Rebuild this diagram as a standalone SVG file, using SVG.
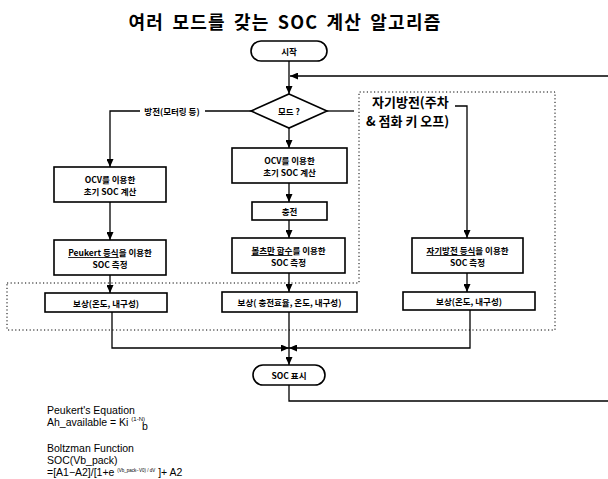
<svg xmlns="http://www.w3.org/2000/svg" width="608" height="479" viewBox="0 0 608 479">
<style>
.bx{fill:#fff;stroke:#000;stroke-width:1.6}
.ln{fill:none;stroke:#000;stroke-width:1.3}
.dot{fill:none;stroke:#000;stroke-width:1;stroke-dasharray:1.2 2.4}
.k{font-family:"Noto Sans CJK KR","Noto Sans",sans-serif;font-weight:bold;fill:#000;text-anchor:middle;dominant-baseline:central}
.s{font-size:8.5px}
.ks{font-family:"Noto Sans CJK KR","Noto Sans",sans-serif;font-weight:bold;fill:#000;font-size:13px;dominant-baseline:central}
.f{font-family:"Liberation Sans",Arial,sans-serif;font-size:10.5px;fill:#000}
.u{text-decoration:underline}
</style>
<defs>
<marker id="ah" markerWidth="8" markerHeight="7" refX="8" refY="3.5" orient="auto" markerUnits="userSpaceOnUse"><path d="M0,0 L8,3.5 L0,7 Z" fill="#000"/></marker>
</defs>
<rect width="608" height="479" fill="#fff"/>
<text class="k" x="285" y="21" font-size="18" letter-spacing="1.2" word-spacing="3">여러 모드를 갖는 SOC 계산 알고리즘</text>
<polygon class="dot" points="7,283 359,283 359,92 555,92 555,330 7,330"/>
<g id="connectors">
<path class="ln" d="M289 61 V94" marker-end="url(#ah)"/>
<path class="ln" d="M289 385 V401 H612 V76 H290" marker-end="url(#ah)"/>
<path class="ln" d="M251 111 H205"/>
<path class="ln" d="M140 111 H110 V167" marker-end="url(#ah)"/>
<path class="ln" d="M327 111 H354"/>
<path class="ln" d="M455 106 H467 V238" marker-end="url(#ah)"/>
<path class="ln" d="M289 128 V148" marker-end="url(#ah)"/>
<path class="ln" d="M289 183 V202" marker-end="url(#ah)"/>
<path class="ln" d="M289 220 V238" marker-end="url(#ah)"/>
<path class="ln" d="M289 273 V292" marker-end="url(#ah)"/>
<path class="ln" d="M289 312 V365" marker-end="url(#ah)"/>
<path class="ln" d="M110 202 V240" marker-end="url(#ah)"/>
<path class="ln" d="M110 275 V293" marker-end="url(#ah)"/>
<path class="ln" d="M112 312 V348 H289" marker-end="url(#ah)"/>
<path class="ln" d="M467 273 V292" marker-end="url(#ah)"/>
<path class="ln" d="M470 310 V348 H289" marker-end="url(#ah)"/>
<text class="k s" x="172" y="111">방전(모터링 등)</text>
<text class="ks" x="372" y="101">자기방전(주차</text>
<text class="ks" x="366" y="120">&amp; 점화 키 오프)</text>
</g>
<g id="start"><rect class="bx" x="251" y="41" width="76" height="20" rx="10"/><text class="k s" x="289" y="51">시작</text></g>
<g id="mode"><polygon class="bx" points="289,94 327,111 289,128 251,111"/><text class="k s" x="289" y="111">모드 ?</text></g>
<g id="ocv-left"><rect class="bx" x="54" y="167" width="112" height="35"/><text class="k s" x="110" y="179">OCV를 이용한</text><text class="k s" x="110" y="191">초기 SOC 계산</text></g>
<g id="peukert"><rect class="bx" x="54" y="240" width="112" height="35"/><text class="k s" x="110" y="252"><tspan class="u">Peukert 등식</tspan>을 이용한</text><text class="k s" x="110" y="264">SOC 측정</text></g>
<g id="comp-left"><rect class="bx" x="45" y="293" width="122" height="19"/><text class="k s" x="106" y="302.5">보상(온도, 내구성)</text></g>
<g id="ocv-mid"><rect class="bx" x="232" y="148" width="115" height="35"/><text class="k s" x="289.5" y="160">OCV를 이용한</text><text class="k s" x="289.5" y="172">초기 SOC 계산</text></g>
<g id="charge"><rect class="bx" x="252" y="202" width="75" height="18"/><text class="k s" x="289.5" y="211">충전</text></g>
<g id="boltzman"><rect class="bx" x="232" y="238" width="113" height="35"/><text class="k s" x="288.5" y="250"><tspan class="u">볼츠만 함수</tspan>를 이용한</text><text class="k s" x="288.5" y="262">SOC 측정</text></g>
<g id="comp-mid"><rect class="bx" x="222" y="292" width="135" height="20"/><text class="k s" x="289.5" y="302">보상( 충전효율, 온도, 내구성)</text></g>
<g id="selfdis"><rect class="bx" x="412" y="238" width="111" height="35"/><text class="k s" x="467.5" y="250"><tspan class="u">자기방전 등식</tspan>을 이용한</text><text class="k s" x="467.5" y="262">SOC 측정</text></g>
<g id="comp-right"><rect class="bx" x="403" y="292" width="132" height="18"/><text class="k s" x="469" y="301">보상(온도, 내구성)</text></g>
<g id="soc"><rect class="bx" x="253" y="365" width="72" height="20" rx="10"/><text class="k s" x="289" y="375">SOC 표시</text></g>
<g id="notes">
<text class="f" x="47" y="414">Peukert's Equation</text>
<text class="f" x="47" y="426">Ah_available = Ki <tspan font-size="6" dy="-5">(1-N)</tspan></text>
<text class="f" x="142" y="430" font-size="8">b</text>
<text class="f" x="47" y="452">Boltzman Function</text>
<text class="f" x="47" y="464">SOC(Vb_pack)</text>
<text class="f" x="47" y="476">=[A1−A2]/[1+e <tspan font-size="4.5" dy="-4">(Vb_pack−V0) / dV</tspan><tspan dy="4">   ]+ A2</tspan></text>
</g>
</svg>
